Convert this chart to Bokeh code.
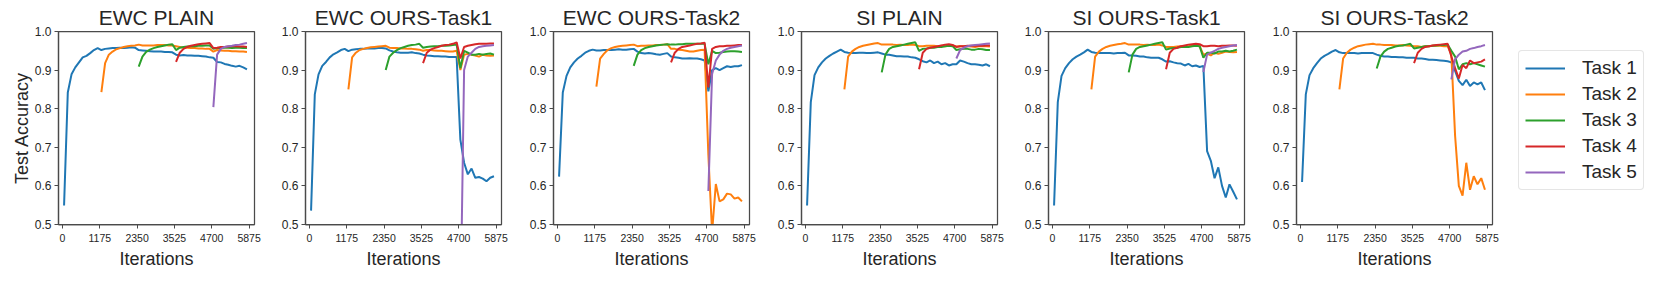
from bokeh.plotting import figure
from bokeh.layouts import row
from bokeh.models import FixedTicker, PrintfTickFormatter, Legend, LegendItem, Range1d
from bokeh.embed import file_html
from bokeh.resources import INLINE

# ---------------- data ----------------
iterations = [50, 167.5, 285, 402.5, 520, 637.5, 755, 872.5, 990, 1107.5,
              1225, 1342.5, 1460, 1577.5, 1695, 1812.5, 1930, 2047.5, 2165, 2282.5,
              2400, 2517.5, 2635, 2752.5, 2870, 2987.5, 3105, 3222.5, 3340, 3457.5,
              3575, 3692.5, 3810, 3927.5, 4045, 4162.5, 4280, 4397.5, 4515, 4632.5,
              4750, 4867.5, 4985, 5102.5, 5220, 5337.5, 5455, 5572.5, 5690, 5807.5]
task_first_index = [0, 10, 20, 30, 40]
x_ticks = [0, 1175, 2350, 3525, 4700, 5875]
y_ticks = [0.5, 0.6, 0.7, 0.8, 0.9, 1.0]
task_names = ["Task 1", "Task 2", "Task 3", "Task 4", "Task 5"]
panel_titles = ["EWC PLAIN", "EWC OURS-Task1", "EWC OURS-Task2",
                "SI PLAIN", "SI OURS-Task1", "SI OURS-Task2"]

ewc_plain_t1 = [0.549, 0.842, 0.889, 0.907, 0.920, 0.933, 0.937, 0.944, 0.952, 0.957,
                0.952, 0.955, 0.956, 0.957, 0.957, 0.958, 0.957, 0.958, 0.959, 0.958,
                0.952, 0.951, 0.950, 0.949, 0.948, 0.948, 0.948, 0.947, 0.947, 0.946,
                0.940, 0.938, 0.939, 0.938, 0.938, 0.937, 0.937, 0.936, 0.935, 0.933,
                0.932, 0.921, 0.920, 0.916, 0.914, 0.911, 0.909, 0.911, 0.907, 0.902]
ewc_plain_t2 = [0.843, 0.918, 0.940, 0.948, 0.954, 0.957, 0.960, 0.962, 0.963, 0.964,
                0.966, 0.964, 0.964, 0.964, 0.964, 0.965, 0.965, 0.965, 0.964, 0.964,
                0.962, 0.960, 0.958, 0.958, 0.957, 0.957, 0.956, 0.956, 0.955, 0.955,
                0.948, 0.952, 0.951, 0.950, 0.950, 0.949, 0.949, 0.948, 0.948, 0.947]
ewc_plain_t3 = [0.909, 0.935, 0.947, 0.953, 0.957, 0.960, 0.962, 0.964, 0.966, 0.967,
                0.952, 0.958, 0.960, 0.961, 0.962, 0.962, 0.963, 0.963, 0.964, 0.964,
                0.955, 0.957, 0.957, 0.958, 0.958, 0.957, 0.958, 0.958, 0.957, 0.957]
ewc_plain_t4 = [0.921, 0.945, 0.955, 0.960, 0.963, 0.965, 0.967, 0.968, 0.969, 0.970,
                0.957, 0.958, 0.960, 0.960, 0.961, 0.962, 0.962, 0.961, 0.961, 0.960]
ewc_plain_t5 = [0.804, 0.940, 0.955, 0.960, 0.962, 0.963, 0.965, 0.966, 0.968, 0.970]

ewc_t1_t1 = [0.536, 0.837, 0.889, 0.911, 0.921, 0.933, 0.941, 0.946, 0.952, 0.955,
             0.949, 0.953, 0.954, 0.955, 0.955, 0.956, 0.956, 0.956, 0.957, 0.957,
             0.956, 0.951, 0.948, 0.946, 0.945, 0.945, 0.945, 0.946, 0.944, 0.943,
             0.940, 0.938, 0.937, 0.936, 0.936, 0.935, 0.935, 0.934, 0.934, 0.934,
             0.720, 0.660, 0.630, 0.645, 0.621, 0.623, 0.619, 0.612, 0.621, 0.625]
ewc_t1_t2 = [0.850, 0.933, 0.945, 0.952, 0.955, 0.957, 0.959, 0.960, 0.961, 0.962,
             0.963, 0.958, 0.957, 0.957, 0.956, 0.956, 0.955, 0.955, 0.954, 0.953,
             0.950, 0.952, 0.952, 0.951, 0.950, 0.950, 0.949, 0.948, 0.948, 0.950,
             0.900, 0.940, 0.942, 0.940, 0.938, 0.935, 0.940, 0.938, 0.937, 0.938]
ewc_t1_t3 = [0.900, 0.935, 0.945, 0.952, 0.957, 0.960, 0.963, 0.965, 0.966, 0.968,
             0.958, 0.960, 0.961, 0.962, 0.962, 0.963, 0.963, 0.964, 0.965, 0.966,
             0.905, 0.950, 0.945, 0.940, 0.940, 0.942, 0.940, 0.942, 0.943, 0.940]
ewc_t1_t4 = [0.918, 0.945, 0.953, 0.957, 0.960, 0.963, 0.965, 0.966, 0.968, 0.972,
             0.930, 0.960, 0.963, 0.965, 0.967, 0.968, 0.968, 0.968, 0.969, 0.969]
ewc_t1_t5 = [0.250, 0.900, 0.935, 0.945, 0.955, 0.960, 0.962, 0.963, 0.964, 0.965]

ewc_t2_t1 = [0.624, 0.842, 0.885, 0.907, 0.920, 0.930, 0.937, 0.945, 0.950, 0.953,
             0.951, 0.951, 0.952, 0.952, 0.952, 0.953, 0.954, 0.953, 0.953, 0.954,
             0.955, 0.948, 0.944, 0.943, 0.944, 0.943, 0.941, 0.940, 0.942, 0.944,
             0.935, 0.933, 0.932, 0.930, 0.930, 0.931, 0.930, 0.930, 0.928, 0.925,
             0.845, 0.900, 0.905, 0.900, 0.905, 0.910, 0.908, 0.910, 0.910, 0.913]
ewc_t2_t2 = [0.857, 0.930, 0.942, 0.952, 0.957, 0.960, 0.962, 0.963, 0.964, 0.965,
             0.966, 0.962, 0.963, 0.963, 0.964, 0.964, 0.965, 0.965, 0.966, 0.967,
             0.955, 0.955, 0.953, 0.952, 0.950, 0.948, 0.948, 0.950, 0.952, 0.953,
             0.680, 0.480, 0.605, 0.560, 0.565, 0.580, 0.578, 0.567, 0.570, 0.560]
ewc_t2_t3 = [0.911, 0.940, 0.952, 0.957, 0.960, 0.962, 0.964, 0.965, 0.966, 0.967,
             0.966, 0.966, 0.967, 0.967, 0.968, 0.968, 0.968, 0.968, 0.968, 0.968,
             0.915, 0.950, 0.944, 0.945, 0.947, 0.948, 0.949, 0.949, 0.948, 0.947]
ewc_t2_t4 = [0.920, 0.945, 0.955, 0.960, 0.962, 0.964, 0.966, 0.968, 0.969, 0.971,
             0.855, 0.955, 0.960, 0.962, 0.962, 0.963, 0.963, 0.964, 0.965, 0.965]
ewc_t2_t5 = [0.587, 0.890, 0.925, 0.940, 0.950, 0.955, 0.958, 0.960, 0.962, 0.964]

si_plain_t1 = [0.549, 0.817, 0.887, 0.907, 0.920, 0.930, 0.937, 0.943, 0.948, 0.953,
               0.947, 0.945, 0.944, 0.944, 0.945, 0.945, 0.944, 0.944, 0.945, 0.946,
               0.943, 0.940, 0.940, 0.938, 0.936, 0.936, 0.935, 0.935, 0.933, 0.932,
               0.928, 0.923, 0.920, 0.925, 0.918, 0.922, 0.915, 0.918, 0.912, 0.915,
               0.915, 0.925, 0.922, 0.918, 0.915, 0.915, 0.914, 0.912, 0.915, 0.910]
si_plain_t2 = [0.850, 0.935, 0.948, 0.955, 0.960, 0.963, 0.965, 0.967, 0.969, 0.970,
               0.966, 0.966, 0.966, 0.966, 0.965, 0.966, 0.965, 0.965, 0.966, 0.965,
               0.962, 0.962, 0.963, 0.963, 0.963, 0.962, 0.963, 0.962, 0.963, 0.963,
               0.961, 0.962, 0.962, 0.962, 0.961, 0.960, 0.962, 0.962, 0.962, 0.961]
si_plain_t3 = [0.894, 0.940, 0.955, 0.960, 0.962, 0.964, 0.966, 0.968, 0.970, 0.972,
               0.950, 0.955, 0.956, 0.958, 0.958, 0.960, 0.960, 0.962, 0.963, 0.962,
               0.952, 0.954, 0.955, 0.955, 0.953, 0.953, 0.955, 0.954, 0.952, 0.952]
si_plain_t4 = [0.902, 0.945, 0.955, 0.958, 0.960, 0.962, 0.964, 0.966, 0.967, 0.965,
               0.960, 0.962, 0.962, 0.963, 0.963, 0.963, 0.964, 0.963, 0.964, 0.964]
si_plain_t5 = [0.930, 0.952, 0.958, 0.962, 0.964, 0.965, 0.966, 0.967, 0.968, 0.969]

si_t1_t1 = [0.549, 0.817, 0.885, 0.905, 0.918, 0.928, 0.935, 0.940, 0.946, 0.953,
            0.947, 0.945, 0.944, 0.944, 0.944, 0.944, 0.943, 0.944, 0.944, 0.945,
            0.938, 0.938, 0.937, 0.935, 0.935, 0.933, 0.932, 0.932, 0.932, 0.928,
            0.922, 0.923, 0.920, 0.918, 0.917, 0.912, 0.916, 0.910, 0.912, 0.908,
            0.911, 0.690, 0.665, 0.620, 0.648, 0.600, 0.570, 0.604, 0.585, 0.565]
si_t1_t2 = [0.850, 0.935, 0.948, 0.955, 0.960, 0.963, 0.965, 0.967, 0.968, 0.970,
            0.966, 0.966, 0.966, 0.966, 0.965, 0.966, 0.965, 0.965, 0.966, 0.964,
            0.960, 0.960, 0.960, 0.961, 0.962, 0.962, 0.962, 0.963, 0.963, 0.962,
            0.940, 0.943, 0.938, 0.945, 0.942, 0.945, 0.948, 0.947, 0.946, 0.947]
si_t1_t3 = [0.894, 0.940, 0.955, 0.960, 0.962, 0.964, 0.966, 0.968, 0.970, 0.972,
            0.953, 0.956, 0.957, 0.958, 0.960, 0.960, 0.960, 0.962, 0.963, 0.962,
            0.932, 0.945, 0.945, 0.943, 0.948, 0.948, 0.950, 0.948, 0.950, 0.953]
si_t1_t4 = [0.902, 0.945, 0.955, 0.958, 0.962, 0.964, 0.966, 0.967, 0.968, 0.967,
            0.962, 0.962, 0.963, 0.963, 0.962, 0.963, 0.963, 0.964, 0.964, 0.963]
si_t1_t5 = [0.895, 0.940, 0.945, 0.950, 0.955, 0.958, 0.960, 0.962, 0.964, 0.965]

si_t2_t1 = [0.610, 0.837, 0.887, 0.905, 0.918, 0.930, 0.937, 0.942, 0.948, 0.952,
            0.946, 0.944, 0.944, 0.944, 0.944, 0.943, 0.944, 0.944, 0.944, 0.944,
            0.940, 0.937, 0.935, 0.935, 0.934, 0.934, 0.933, 0.933, 0.932, 0.932,
            0.932, 0.930, 0.930, 0.929, 0.927, 0.927, 0.926, 0.925, 0.924, 0.923,
            0.920, 0.898, 0.872, 0.861, 0.875, 0.859, 0.868, 0.863, 0.868, 0.848]
si_t2_t2 = [0.850, 0.930, 0.945, 0.953, 0.958, 0.962, 0.964, 0.966, 0.967, 0.968,
            0.966, 0.966, 0.965, 0.965, 0.965, 0.964, 0.964, 0.965, 0.964, 0.963,
            0.962, 0.962, 0.960, 0.962, 0.962, 0.963, 0.963, 0.963, 0.962, 0.962,
            0.940, 0.730, 0.600, 0.575, 0.660, 0.590, 0.625, 0.604, 0.620, 0.590]
si_t2_t3 = [0.904, 0.935, 0.948, 0.955, 0.958, 0.961, 0.963, 0.964, 0.966, 0.968,
            0.956, 0.958, 0.960, 0.962, 0.962, 0.963, 0.964, 0.965, 0.965, 0.966,
            0.950, 0.935, 0.902, 0.915, 0.918, 0.915, 0.918, 0.915, 0.912, 0.909]
si_t2_t4 = [0.918, 0.945, 0.955, 0.960, 0.962, 0.964, 0.965, 0.966, 0.967, 0.968,
            0.935, 0.905, 0.878, 0.913, 0.905, 0.925, 0.918, 0.920, 0.922, 0.928]
si_t2_t5 = [0.876, 0.928, 0.940, 0.948, 0.950, 0.955, 0.957, 0.960, 0.962, 0.965]

panels = [
    [ewc_plain_t1, ewc_plain_t2, ewc_plain_t3, ewc_plain_t4, ewc_plain_t5],
    [ewc_t1_t1, ewc_t1_t2, ewc_t1_t3, ewc_t1_t4, ewc_t1_t5],
    [ewc_t2_t1, ewc_t2_t2, ewc_t2_t3, ewc_t2_t4, ewc_t2_t5],
    [si_plain_t1, si_plain_t2, si_plain_t3, si_plain_t4, si_plain_t5],
    [si_t1_t1, si_t1_t2, si_t1_t3, si_t1_t4, si_t1_t5],
    [si_t2_t1, si_t2_t2, si_t2_t3, si_t2_t4, si_t2_t5],
]

# ---------------- style ----------------
FONT = "Liberation Sans"
TEXT = "#262626"
SPINE = "#4a4a4a"
colors = ["#1f77b4", "#ff7f0e", "#2ca02c", "#d62728", "#9467bd"]
borders_left = [58, 29, 30, 30, 29, 30]
borders_right = [22, 22, 22, 22, 22, 153]

figs = []
for i, (ttl, series) in enumerate(zip(panel_titles, panels)):
    p = figure(frame_width=196, frame_height=193,
               x_range=Range1d(-125, 6045), y_range=Range1d(0.5, 1.0),
               min_border_left=borders_left[i], min_border_right=borders_right[i],
               min_border_top=31, min_border_bottom=52,
               toolbar_location=None, output_backend="svg", title=ttl)
    p.title.text_font = FONT
    p.title.text_font_size = "21px"
    p.title.text_font_style = "normal"
    p.title.text_color = TEXT
    p.title.align = "center"
    p.title.standoff = 6

    p.outline_line_color = SPINE
    p.outline_line_width = 1.25
    p.outline_line_alpha = 1.0
    p.xgrid.visible = False
    p.ygrid.visible = False

    for ax in (p.xaxis[0], p.yaxis[0]):
        ax.axis_line_color = SPINE
        ax.axis_line_width = 1.25
        ax.major_tick_line_color = SPINE
        ax.major_tick_line_width = 1.0
        ax.major_tick_out = 4
        ax.major_tick_in = 0
        ax.minor_tick_line_color = None
        ax.major_label_text_font = FONT
        ax.major_label_text_color = TEXT
        ax.axis_label_text_font = FONT
        ax.axis_label_text_font_style = "normal"
        ax.axis_label_text_color = TEXT
        ax.axis_label_text_font_size = "18px"

    p.xaxis.ticker = FixedTicker(ticks=x_ticks)
    p.xaxis.major_label_text_font_size = "10.5px"
    p.xaxis.major_label_standoff = 5
    p.xaxis.axis_label = "Iterations"
    p.xaxis.axis_label_standoff = 4

    p.yaxis.ticker = FixedTicker(ticks=y_ticks)
    p.yaxis.formatter = PrintfTickFormatter(format="%.1f")
    p.yaxis.major_label_text_font_size = "12px"
    p.yaxis.major_label_standoff = 3
    if i == 0:
        p.yaxis.axis_label = "Test Accuracy"
        p.yaxis.axis_label_standoff = 0

    renderers = []
    for k, vals in enumerate(series):
        xs = iterations[task_first_index[k]:task_first_index[k] + len(vals)]
        r = p.line(xs, vals, line_color=colors[k], line_width=2)
        renderers.append(r)

    if i == len(panel_titles) - 1:
        legend = Legend(items=[LegendItem(label=n, renderers=[r]) for n, r in zip(task_names, renderers)],
                        location=(26, 34))
        legend.label_text_font = FONT
        legend.label_text_font_size = "19px"
        legend.label_text_color = TEXT
        legend.glyph_width = 40
        legend.glyph_height = 22
        legend.label_height = 22
        legend.label_standoff = 17
        legend.spacing = 4
        legend.padding = 6
        legend.margin = 0
        legend.border_line_color = "#cccccc"
        legend.border_line_width = 1
        legend.background_fill_color = "white"
        legend.background_fill_alpha = 1.0
        try:
            legend.border_radius = 4
        except Exception:
            pass
        p.add_layout(legend, "right")

    figs.append(p)

layout = row(*figs, spacing=0)
open("out.html", "w").write(file_html(layout, INLINE))
